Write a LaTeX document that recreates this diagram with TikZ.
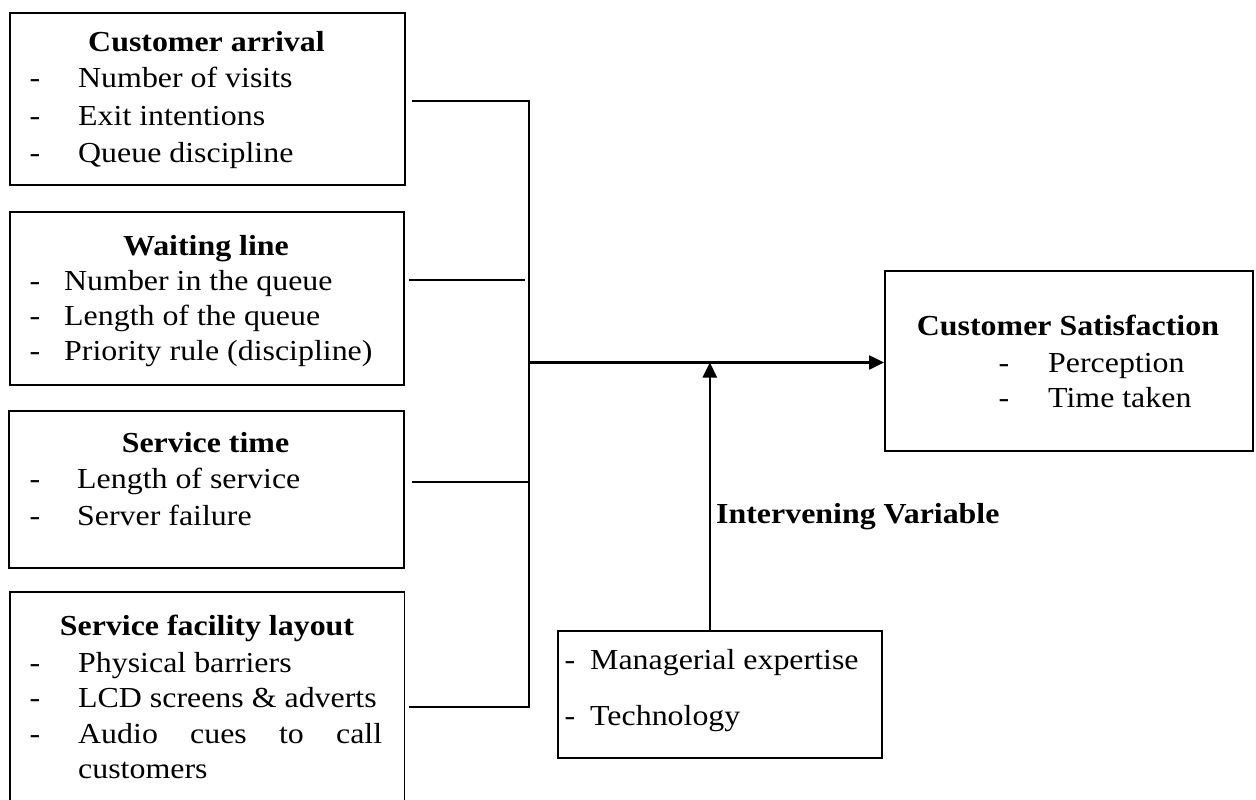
\documentclass[tikz,border=0pt]{standalone}
\usepackage{fontspec}
\setmainfont[FakeStretch=1.1]{Liberation Serif}
\usetikzlibrary{arrows.meta}
\begin{document}
\begin{tikzpicture}[x=1pt,y=-1pt,
  box/.style={draw, line width=1.7pt, inner sep=0pt, anchor=north west},
  frame/.style={inner sep=0pt, anchor=north west},
  txt/.style={inner sep=0pt, anchor=base west, font=\fontsize{29}{36}\selectfont},
  dsh/.style={inner sep=0pt, anchor=base, font=\fontsize{29}{36}\selectfont},
  ttl/.style={inner sep=0pt, anchor=base, font=\fontsize{29}{36}\selectfont\bfseries},
  lbl/.style={inner sep=0pt, anchor=base west, font=\fontsize{29}{36}\selectfont\bfseries},
  conn/.style={line width=2.5pt},
  arr/.style={line width=2.5pt, -{Triangle[length=15pt,width=14pt]}}]
\useasboundingbox (0,0) rectangle (1256,800);

% boxes
\node[box, minimum width=395pt, minimum height=172pt] (b1) at (9,12) {};
\node[box, minimum width=394pt, minimum height=173pt] (b2) at (9,211) {};
\node[box, minimum width=395pt, minimum height=157pt] (b3) at (8,410) {};
\node[frame, minimum width=394pt, minimum height=210pt] (b4) at (10,592) {};
\draw[line width=1.7pt] (b4.south west) -- (b4.north west) -- (b4.north east) -- (b4.south east);
\node[box, minimum width=368pt, minimum height=180pt] (cs) at (884,270) {};
\node[box, minimum width=324pt, minimum height=127pt] (iv) at (557,630) {};

% box 1
\node[ttl] (t1) at (206.5,52) {Customer arrival};
\node[dsh] (d11) at (35,88) {-};
\node[txt] (i11) at (78,88) {Number of visits};
\node[dsh] (d12) at (35,125) {-};
\node[txt] (i12) at (78,125) {Exit intentions};
\node[dsh] (d13) at (35,162) {-};
\node[txt] (i13) at (78,162) {Queue discipline};

% box 2
\node[ttl] (t2) at (206,255) {Waiting line};
\node[dsh] (d21) at (35,290) {-};
\node[txt] (i21) at (64,290) {Number in the queue};
\node[dsh] (d22) at (35,325) {-};
\node[txt] (i22) at (64,325) {Length of the queue};
\node[dsh] (d23) at (35,360) {-};
\node[txt] (i23) at (64,360) {Priority rule (discipline)};

% box 3
\node[ttl] (t3) at (205.5,452) {Service time};
\node[dsh] (d31) at (35,488) {-};
\node[txt] (i31) at (77,488) {Length of service};
\node[dsh] (d32) at (35,525) {-};
\node[txt] (i32) at (77,525) {Server failure};

% box 4
\node[ttl] (t4) at (207,635) {Service facility layout};
\node[dsh] (d41) at (35,672) {-};
\node[txt] (i41) at (78,672) {Physical barriers};
\node[dsh] (d42) at (35,707) {-};
\node[txt] (i42) at (78,707) {LCD screens \& adverts};
\node[dsh] (d43) at (35,743) {-};
\node[txt] (i43) at (78,743) {\hbox to 304pt{Audio\hfill cues\hfill to\hfill call}};
\node[txt] (i44) at (78,778) {customers};

% customer satisfaction
\node[ttl] (tcs) at (1068,335) {Customer Satisfaction};
\node[dsh] (dc1) at (1004,372) {-};
\node[txt] (ic1) at (1048,372) {Perception};
\node[dsh] (dc2) at (1004,407) {-};
\node[txt] (ic2) at (1048,407) {Time taken};

% intervening box
\node[dsh] (dv1) at (570,669) {-};
\node[txt] (iv1) at (590,669) {Managerial expertise};
\node[dsh] (dv2) at (570,725) {-};
\node[txt] (iv2) at (590,725) {Technology};

\node[lbl] (ivl) at (716,523) {Intervening Variable};

% connectors
\coordinate (s1) at (412,101);
\coordinate (s2) at (409,280);
\coordinate (s3) at (412,482);
\coordinate (s4) at (409,707);
\coordinate (k1) at (529,101);
\coordinate (k2) at (525,280);
\coordinate (k3) at (529,482);
\coordinate (k4) at (529,707);
\coordinate (j) at (529,362.5);

\draw[conn] (s1) -- (k1) -- (k4) -- (s4);
\draw[conn] (s2) -- (k2);
\draw[conn] (s3) -- (k3);
\draw[arr] (j) -- (j -| cs.west);
\draw[arr] ([xshift=-10pt]iv.north) -- ([xshift=-10pt]iv.north |- j);
\end{tikzpicture}
\end{document}
